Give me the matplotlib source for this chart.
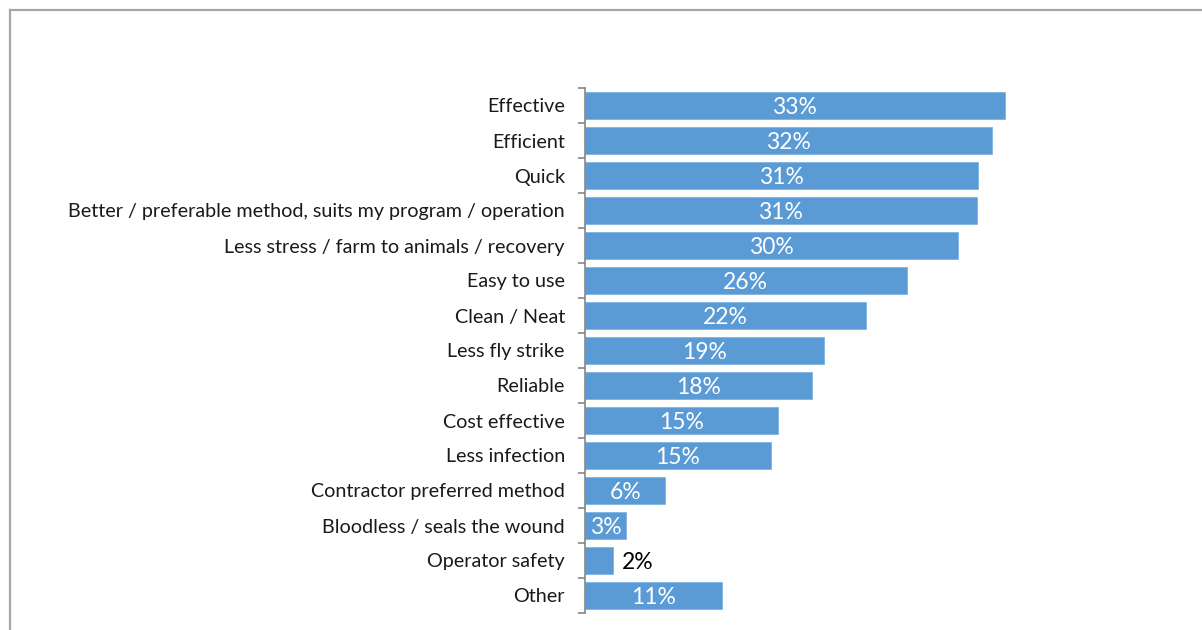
import matplotlib
matplotlib.use("Agg")
import matplotlib.pyplot as plt
from matplotlib.lines import Line2D
import numpy as np

categories = [
    "Effective",
    "Efficient",
    "Quick",
    "Better / preferable method, suits my program / operation",
    "Less stress / farm to animals / recovery",
    "Easy to use",
    "Clean / Neat",
    "Less fly strike",
    "Reliable",
    "Cost effective",
    "Less infection",
    "Contractor preferred method",
    "Bloodless / seals the wound",
    "Operator safety",
    "Other",
]
values = [33.4, 32.4, 31.3, 31.2, 29.7, 25.6, 22.4, 19.0, 18.1, 15.4, 14.8, 6.4, 3.3, 2.2, 10.9]

BAR = "#5B9BD5"
plt.rcParams["font.family"] = ["Lato", "DejaVu Sans"]

W, H = 1202, 630
fig = plt.figure(figsize=(W / 100, H / 100), dpi=100)
ax = fig.add_axes([585 / W, 1 - 613 / H, 585 / W, 525 / H])

y = np.arange(len(categories))
bars = ax.barh(y, values, height=0.77, color=BAR, edgecolor="#7fb2e0", linewidth=0.6)

ax.set_xlim(0, 585 / 12.56)
ax.set_ylim(len(categories) - 0.5, -0.5)

for b, v in zip(bars, values):
    cy = b.get_y() + b.get_height() / 2
    if v < 3:
        ax.text(v + 0.75, cy, f"{v:.0f}%", color="black", fontsize=16.5,
                va="center_baseline", ha="left")
    else:
        ax.text(v / 2, cy, f"{v:.0f}%", color="white", fontsize=16.5,
                va="center_baseline", ha="center")

ax.set_yticks(y)
ax.set_yticklabels(categories, fontsize=14.2, color="#1a1a1a")
ax.set_yticks(np.arange(len(categories) + 1) - 0.5, minor=True)
ax.tick_params(axis="y", which="major", length=0, pad=14.5)
ax.tick_params(axis="y", which="minor", length=5, color="#868686", width=1.2)
ax.set_xticks([])
for s in ["top", "right", "bottom"]:
    ax.spines[s].set_visible(False)
ax.spines["left"].set_color("#868686")
ax.spines["left"].set_linewidth(1.2)

# outer frame
fig.add_artist(Line2D([10 / W, 10 / W], [0, 1 - 10 / H], transform=fig.transFigure,
                      color="#a6a6a6", linewidth=1.6))
fig.add_artist(Line2D([10 / W, 1], [1 - 10 / H, 1 - 10 / H], transform=fig.transFigure,
                      color="#a6a6a6", linewidth=1.6))

fig.savefig("out.png", dpi=100, facecolor="white")
